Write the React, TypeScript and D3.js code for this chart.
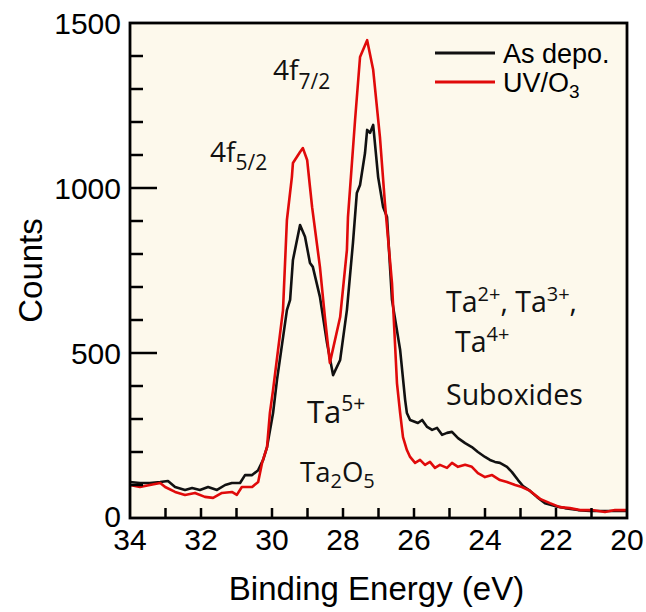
import React from "react";
import * as d3 from "d3";

// Dimensions
const W = 646;
const H = 612;
const margin = { top: 23, right: 19, bottom: 94, left: 130 };
const innerW = W - margin.left - margin.right;
const innerH = H - margin.top - margin.bottom;

// Ta 4f spectra, [binding energy (eV), counts]
const asDepo: [number, number][] = [
  [34.0, 109], [33.72, 106], [33.44, 106], [33.15, 109], [32.93, 112], [32.73, 94],
  [32.45, 85], [32.25, 91], [32.03, 85], [31.8, 94], [31.55, 85], [31.32, 100],
  [31.13, 106], [30.9, 106], [30.76, 130], [30.56, 130], [30.39, 145], [30.25, 176],
  [30.14, 215], [29.97, 318], [29.86, 418], [29.58, 630], [29.49, 661], [29.41, 782],
  [29.21, 888], [29.07, 852], [28.93, 773], [28.85, 761], [28.65, 670], [28.45, 530],
  [28.28, 433], [28.08, 479], [27.89, 630], [27.72, 833], [27.61, 985], [27.52, 1009],
  [27.38, 1106], [27.32, 1176], [27.24, 1167], [27.15, 1191], [27.01, 1033], [26.87, 942],
  [26.76, 912], [26.62, 661], [26.39, 509], [26.25, 358], [26.2, 318], [26.11, 297],
  [25.89, 288], [25.77, 297], [25.63, 276], [25.49, 267], [25.35, 273], [25.21, 252],
  [25.07, 258], [24.93, 261], [24.76, 242], [24.56, 227], [24.37, 215], [24.2, 200],
  [24.0, 185], [23.86, 176], [23.72, 170], [23.58, 167], [23.38, 155], [23.24, 139],
  [23.07, 115], [22.93, 97], [22.73, 82], [22.54, 64], [22.31, 45], [22.03, 36],
  [21.75, 30], [21.38, 24], [21.04, 21], [20.62, 21], [20.0, 21],
];

const uvO3: [number, number][] = [
  [34.0, 100], [33.72, 94], [33.44, 100], [33.15, 106], [33.01, 94], [32.73, 79],
  [32.45, 70], [32.17, 76], [31.89, 64], [31.66, 61], [31.41, 76], [31.13, 79],
  [30.99, 70], [30.85, 94], [30.56, 94], [30.39, 109], [30.28, 167], [30.14, 215],
  [30.06, 318], [29.97, 388], [29.69, 630], [29.58, 903], [29.44, 1033], [29.41, 1076],
  [29.21, 1109], [29.13, 1121], [29.01, 1085], [28.93, 1003], [28.87, 942], [28.65, 761],
  [28.51, 609], [28.37, 470], [28.08, 609], [27.89, 812], [27.86, 912], [27.66, 1206],
  [27.52, 1397], [27.32, 1448], [27.15, 1358], [26.96, 1155], [26.82, 955], [26.62, 712],
  [26.48, 409], [26.39, 318], [26.31, 245], [26.2, 206], [26.11, 185], [25.97, 167],
  [25.83, 176], [25.69, 161], [25.55, 170], [25.41, 152], [25.27, 161], [25.07, 152],
  [24.93, 167], [24.76, 155], [24.56, 161], [24.37, 155], [24.2, 136], [24.0, 124],
  [23.8, 130], [23.58, 115], [23.38, 109], [23.15, 100], [22.96, 94], [22.73, 82],
  [22.45, 58], [22.17, 45], [21.89, 33], [21.61, 30], [21.32, 24], [20.99, 24],
  [20.62, 18], [20.34, 24], [20.0, 24],
];

const xTickLabels = [34, 32, 30, 28, 26, 24, 22, 20];
const xMinorTicks = d3.range(33, 20, -1);
const yTickLabels = [0, 500, 1000, 1500];
const yMinorTicks = d3.range(100, 1500, 100);

const series = [
  { name: "As depo.", data: asDepo, colour: "#111111" },
  { name: "UV/O3", data: uvO3, colour: "#e00a0a" },
];

const numFont = "'Liberation Sans', Arial, sans-serif";
const noteFont = "'Open Sans', 'Noto Sans', sans-serif";

const App = () => {
  const x = d3.scaleLinear().domain([34, 20]).range([0, innerW]);
  const y = d3.scaleLinear().domain([0, 1500]).range([innerH, 0]);

  const line = d3
    .line<[number, number]>()
    .x((d) => x(d[0]))
    .y((d) => y(d[1]));

  return (
    <svg
      width={W}
      height={H}
      style={{ position: "absolute", left: 0, top: 0, background: "#fff" }}
    >
      <g transform={`translate(${margin.left}, ${margin.top})`}>
        <rect x={0} y={0} width={innerW} height={innerH} fill="#fdf9ec" />

        {/* Curves */}
        {series.map((s) => (
          <path
            key={s.name}
            d={line(s.data) || ""}
            fill="none"
            stroke={s.colour}
            strokeWidth={2.6}
            strokeLinejoin="round"
          />
        ))}

        {/* Y ticks */}
        {yMinorTicks.map((t) => (
          <line key={"ym" + t} x1={0} x2={t % 500 === 0 ? 27 : 13} y1={y(t)} y2={y(t)} stroke="#000" strokeWidth={2.5} />
        ))}
        {yTickLabels.map((t) => (
          <text
            key={"yl" + t}
            x={-9}
            y={y(t) + (t === 0 ? 9 : 11)}
            textAnchor="end"
            fontFamily={numFont}
            fontSize={30}
          >
            {t}
          </text>
        ))}

        {/* X ticks */}
        {xMinorTicks.map((t) => (
          <line key={"xm" + t} x1={x(t)} x2={x(t)} y1={innerH} y2={innerH - 10} stroke="#000" strokeWidth={2.5} />
        ))}
        {xTickLabels.map((t) => (
          <text
            key={"xl" + t}
            x={x(t)}
            y={innerH + 32}
            textAnchor="middle"
            fontFamily={numFont}
            fontSize={30}
          >
            {t}
          </text>
        ))}

        {/* Frame */}
        <rect x={0} y={0} width={innerW} height={innerH} fill="none" stroke="#000" strokeWidth={2.8} />

        {/* Axis titles */}
        <text
          x={innerW / 2 - 2}
          y={innerH + 82}
          textAnchor="middle"
          fontFamily={numFont}
          fontSize={33}
        >
          Binding Energy (eV)
        </text>
        <text
          transform={`translate(${42 - margin.left}, ${innerH / 2}) rotate(-90)`}
          textAnchor="middle"
          fontFamily={numFont}
          fontSize={33}
        >
          Counts
        </text>

        {/* Legend */}
        {series.map((s, i) => (
          <g key={"lg" + s.name} transform={`translate(${435 - margin.left}, ${53 - margin.top + i * 29})`}>
            <line x1={0} x2={60} y1={0} y2={0} stroke={s.colour} strokeWidth={3} />
            <text x={68} y={10} fontFamily={numFont} fontSize={27}>
              {i === 0 ? (
                "As depo."
              ) : (
                <>
                  UV/O<tspan fontSize={19} dy={6}>3</tspan>
                </>
              )}
            </text>
          </g>
        ))}
      </g>

      {/* Annotations (absolute page coordinates) */}
      <g fontFamily={noteFont} fontSize={28.5} fill="#111">
        <text x={273} y={80} fontSize={28}>
          4f<tspan fontSize={21} dy={9}>7/2</tspan>
        </text>
        <text x={210} y={162} fontSize={28}>
          4f<tspan fontSize={21} dy={8}>5/2</tspan>
        </text>
        <text x={307} y={423} fontSize={31}>
          Ta<tspan fontSize={21} dy={-12}>5+</tspan>
        </text>
        <text x={300} y={482} fontSize={27.5}>
          Ta<tspan fontSize={20} dy={6}>2</tspan>
          <tspan dy={-6}>O</tspan>
          <tspan fontSize={20} dy={6}>5</tspan>
        </text>
        <text x={446} y={312}>
          Ta<tspan fontSize={20} dy={-11}>2+</tspan>
          <tspan dy={11}>, Ta</tspan>
          <tspan fontSize={20} dy={-11}>3+</tspan>
          <tspan dy={11}>,</tspan>
        </text>
        <text x={455} y={352}>
          Ta<tspan fontSize={20} dy={-11}>4+</tspan>
        </text>
        <text x={446} y={405}>Suboxides</text>
      </g>
    </svg>
  );
};

export default App;
